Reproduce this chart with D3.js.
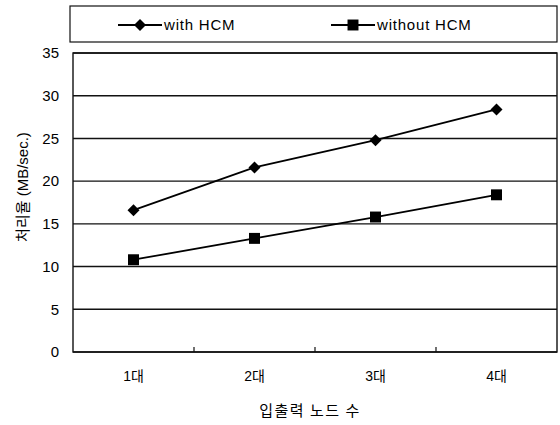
<!DOCTYPE html>
<html><head><meta charset="utf-8">
<script src="https://cdn.jsdelivr.net/npm/d3@7"></script>
<style>body{margin:0;background:#fff}svg{display:block}text{font-family:Arial,"Liberation Sans","Noto Sans CJK KR",sans-serif;fill:#000}</style>
</head><body>
<script>
const categories = ["1대","2대","3대","4대"];
const withHCM = [16.6, 21.6, 24.8, 28.4];
const withoutHCM = [10.8, 13.3, 15.8, 18.4];
const yTicks = [0,5,10,15,20,25,30,35];
const seriesNames = ["with HCM","without HCM"];

const W=560,H=425, L=73, R=557, T=53, B=352;
const svg=d3.select("body").append("svg").attr("width",W).attr("height",H);
const x=d3.scaleBand().domain(categories).range([L,R]);
const y=d3.scaleLinear().domain([0,35]).range([B,T]);

svg.append("g").selectAll("line").data(yTicks).join("line")
  .attr("x1",L).attr("x2",R).attr("y1",d=>y(d)).attr("y2",d=>y(d))
  .attr("stroke","#111").attr("stroke-width",1.4);
svg.append("rect").attr("x",L).attr("y",T).attr("width",R-L).attr("height",B-T)
  .attr("fill","none").attr("stroke","#111").attr("stroke-width",1.4);

const ya=svg.append("g").attr("transform",`translate(${L},0)`)
  .call(d3.axisLeft(y).tickValues(yTicks).tickSize(0).tickPadding(14));
ya.select(".domain").remove();
ya.selectAll("text").attr("font-size",15).style("font-family","Arial,'Liberation Sans',sans-serif");

const xa=svg.append("g").attr("transform",`translate(0,${B})`)
  .call(d3.axisBottom(x).tickSize(0).tickPadding(19));
xa.select(".domain").remove();
xa.selectAll("text").attr("font-size",14).style("font-family","Arial,'Noto Sans CJK KR',sans-serif");
svg.append("g").selectAll("line").data(categories.slice(1)).join("line")
  .attr("x1",d=>x(d)).attr("x2",d=>x(d)).attr("y1",B).attr("y2",B-5)
  .attr("stroke","#111").attr("stroke-width",1.2);

svg.append("text").attr("x",310).attr("y",416).attr("text-anchor","middle")
  .attr("font-size",15).attr("letter-spacing",1.5).style("font-family","'Noto Sans CJK KR',sans-serif").text("입출력 노드 수");
svg.append("text").attr("transform",`translate(28,187) rotate(-90)`).attr("text-anchor","middle")
  .attr("font-size",15).style("font-family","Arial,'Noto Sans CJK KR',sans-serif").text("처리율 (MB/sec.)");

const line=d3.line().x((d,i)=>x(categories[i])+x.bandwidth()/2).y(d=>y(d));
const sym=[d3.symbolSquare,d3.symbolSquare], sz=[72,120], rot=[45,0];
[withHCM,withoutHCM].forEach((s,k)=>{
  svg.append("path").datum(s).attr("d",line).attr("fill","none").attr("stroke","#000").attr("stroke-width",1.8);
  svg.append("g").selectAll("path").data(s).join("path")
    .attr("transform",(d,i)=>`translate(${x(categories[i])+x.bandwidth()/2},${y(d)}) rotate(${rot[k]})`)
    .attr("d",d3.symbol(sym[k],sz[k])).attr("fill","#000");
});

svg.append("rect").attr("x",70).attr("y",6).attr("width",487).attr("height",36)
  .attr("fill","#fff").attr("stroke","#111").attr("stroke-width",1.2);
const lx=[118,331];
seriesNames.forEach((n,k)=>{
  const g=svg.append("g").attr("transform",`translate(${lx[k]},25)`);
  g.append("line").attr("x1",0).attr("x2",44).attr("stroke","#000").attr("stroke-width",1.8);
  g.append("path").attr("transform",`translate(22,0) rotate(${rot[k]})`).attr("d",d3.symbol(sym[k],sz[k])).attr("fill","#000");
  g.append("text").attr("x",46).attr("y",5).attr("font-size",15).attr("letter-spacing",0.8).text(n);
});
</script>
</body></html>
